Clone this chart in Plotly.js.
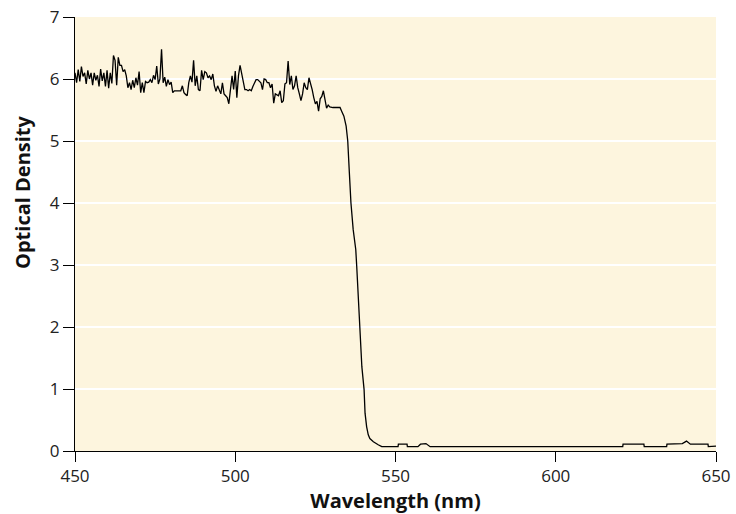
<!DOCTYPE html>
<html>
<head>
<meta charset="utf-8">
<script src="https://cdn.plot.ly/plotly-3.0.1.min.js"></script>
<style>html,body{margin:0;padding:0;background:#fff;}#chart{width:736px;height:514px;}</style>
</head>
<body>
<div id="chart"></div>
<script>
// Wavelength (nm)
const wavelength = [
450.0,450.5,451.0,451.5,452.0,452.5,453.0,453.5,454.0,454.5,455.0,455.5,456.0,456.5,457.0,457.5,458.0,458.5,459.0,459.5,
460.0,460.5,461.0,461.5,462.0,462.5,463.0,463.5,464.0,464.5,465.0,465.5,466.0,466.5,467.0,467.5,468.0,468.5,469.0,469.5,
470.0,470.5,471.0,471.5,472.0,472.5,473.0,473.5,474.0,474.5,475.0,475.5,476.0,476.5,477.0,477.5,478.0,478.5,479.0,479.5,
480.0,480.5,481.0,481.5,482.0,482.5,483.0,483.5,484.0,484.5,485.0,485.5,486.0,486.5,487.0,487.5,488.0,488.5,489.0,489.5,
490.0,490.5,491.0,491.5,492.0,492.5,493.0,493.5,494.0,494.5,495.0,495.5,496.0,496.5,497.0,497.5,498.0,498.5,499.0,499.5,
500.0,500.5,501.0,501.5,502.0,502.5,503.0,503.5,504.0,504.5,505.0,505.5,506.0,506.5,507.0,507.5,508.0,508.5,509.0,509.5,
510.0,510.5,511.0,511.5,512.0,512.5,513.0,513.5,514.0,514.5,515.0,515.5,516.0,516.5,517.0,517.5,518.0,518.5,519.0,519.5,
520.0,520.5,521.0,521.5,522.0,522.5,523.0,523.5,524.0,524.5,525.0,525.5,526.0,526.5,527.0,527.5,528.0,528.5,529.0,529.5,
530.5,531.5,532.7,533.2,533.9,534.6,535.1,535.6,536.1,536.8,537.6,537.9,538.4,538.9,539.5,540.2,540.5,541.0,541.5,542.0,
543.1,544.6,545.7,550.8,550.9,553.6,553.7,557.0,557.8,559.5,560.8,620.9,621.0,627.5,627.6,634.6,634.7,639.5,640.8,642.0,
647.5,647.6,650.0
];
// Optical density
const opticalDensity = [
6.10,5.94,6.15,5.96,6.20,6.04,6.10,5.92,6.14,6.00,6.10,5.90,6.10,5.98,6.06,5.88,6.16,5.97,6.10,5.88,
6.14,5.85,6.10,5.93,6.38,6.30,5.90,6.35,6.22,6.22,6.12,6.15,6.05,5.86,5.94,5.83,5.98,5.86,6.02,5.90,
6.12,5.78,5.94,5.78,5.96,5.94,5.95,5.99,5.94,6.06,5.99,6.21,5.92,6.00,6.48,5.94,6.03,5.88,5.99,5.91,
5.95,5.78,5.81,5.81,5.81,5.81,5.81,5.89,5.78,5.75,5.73,5.94,6.05,5.95,6.30,5.89,6.05,5.83,5.81,6.14,
5.99,6.12,6.10,6.02,6.05,5.99,6.08,5.89,5.80,5.89,5.83,5.76,5.94,5.76,5.73,5.70,5.60,5.83,6.05,5.83,
6.13,5.70,6.05,6.22,6.10,5.95,5.83,5.83,5.81,5.83,5.81,5.88,5.94,5.99,5.99,5.97,5.94,5.83,6.00,5.99,
5.94,5.94,5.86,5.92,5.61,5.76,5.75,5.73,5.81,5.62,5.65,5.92,5.94,6.29,5.91,6.05,5.83,5.89,6.05,5.86,
5.76,5.65,5.76,5.94,5.86,5.83,6.02,5.94,5.83,5.70,5.60,5.64,5.48,5.68,5.72,5.81,5.64,5.53,5.58,5.55,
5.54,5.54,5.54,5.48,5.40,5.24,5.00,4.49,4.00,3.57,3.25,2.98,2.39,1.90,1.36,0.99,0.61,0.39,0.26,0.20,
0.15,0.10,0.07,0.07,0.11,0.11,0.07,0.07,0.11,0.12,0.07,0.07,0.11,0.11,0.07,0.07,0.11,0.12,0.16,0.11,
0.11,0.07,0.08
];
const xTicks = [450, 500, 550, 600, 650];
const yTicks = [0, 1, 2, 3, 4, 5, 6, 7];
const xTitle = 'Wavelength (nm)';
const yTitle = 'Optical Density';

const trace = {
  x: wavelength, y: opticalDensity, type: 'scatter', mode: 'lines',
  line: {color: '#000000', width: 1.3}, hoverinfo: 'skip'
};
const tickFont = {family: '"Open Sans", sans-serif', size: 17, color: '#222'};
const titleFont = {family: '"Open Sans", sans-serif', size: 20, color: '#111', weight: 'bold'};
const layout = {
  width: 736, height: 514,
  margin: {l: 75, r: 20, t: 17, b: 63},
  paper_bgcolor: '#ffffff', plot_bgcolor: '#fdf5de',
  showlegend: false,
  xaxis: {
    range: [450, 650], tickvals: xTicks, ticktext: xTicks.map(String),
    showgrid: false, zeroline: false, showline: true, linecolor: '#000', linewidth: 1,
    ticks: 'outside', ticklen: 10, tickcolor: '#000', tickwidth: 1,
    tickfont: tickFont,
    title: {text: '<b>' + xTitle + '</b>', font: titleFont, standoff: 2}
  },
  yaxis: {
    range: [0, 7], tickvals: yTicks, ticktext: yTicks.map(String),
    showgrid: true, gridcolor: '#ffffff', gridwidth: 2, zeroline: false,
    showline: true, linecolor: '#000', linewidth: 1,
    ticks: 'outside', ticklen: 11, tickcolor: '#000', tickwidth: 1,
    tickfont: tickFont
  },
  annotations: [{
    text: '<b>' + yTitle + '</b>', font: titleFont, textangle: -90,
    xref: 'paper', yref: 'paper', x: -0.081, y: 0.597,
    xanchor: 'center', yanchor: 'middle', showarrow: false
  }]
};
Plotly.newPlot('chart', [trace], layout, {displayModeBar: false, staticPlot: true});
</script>
</body>
</html>
